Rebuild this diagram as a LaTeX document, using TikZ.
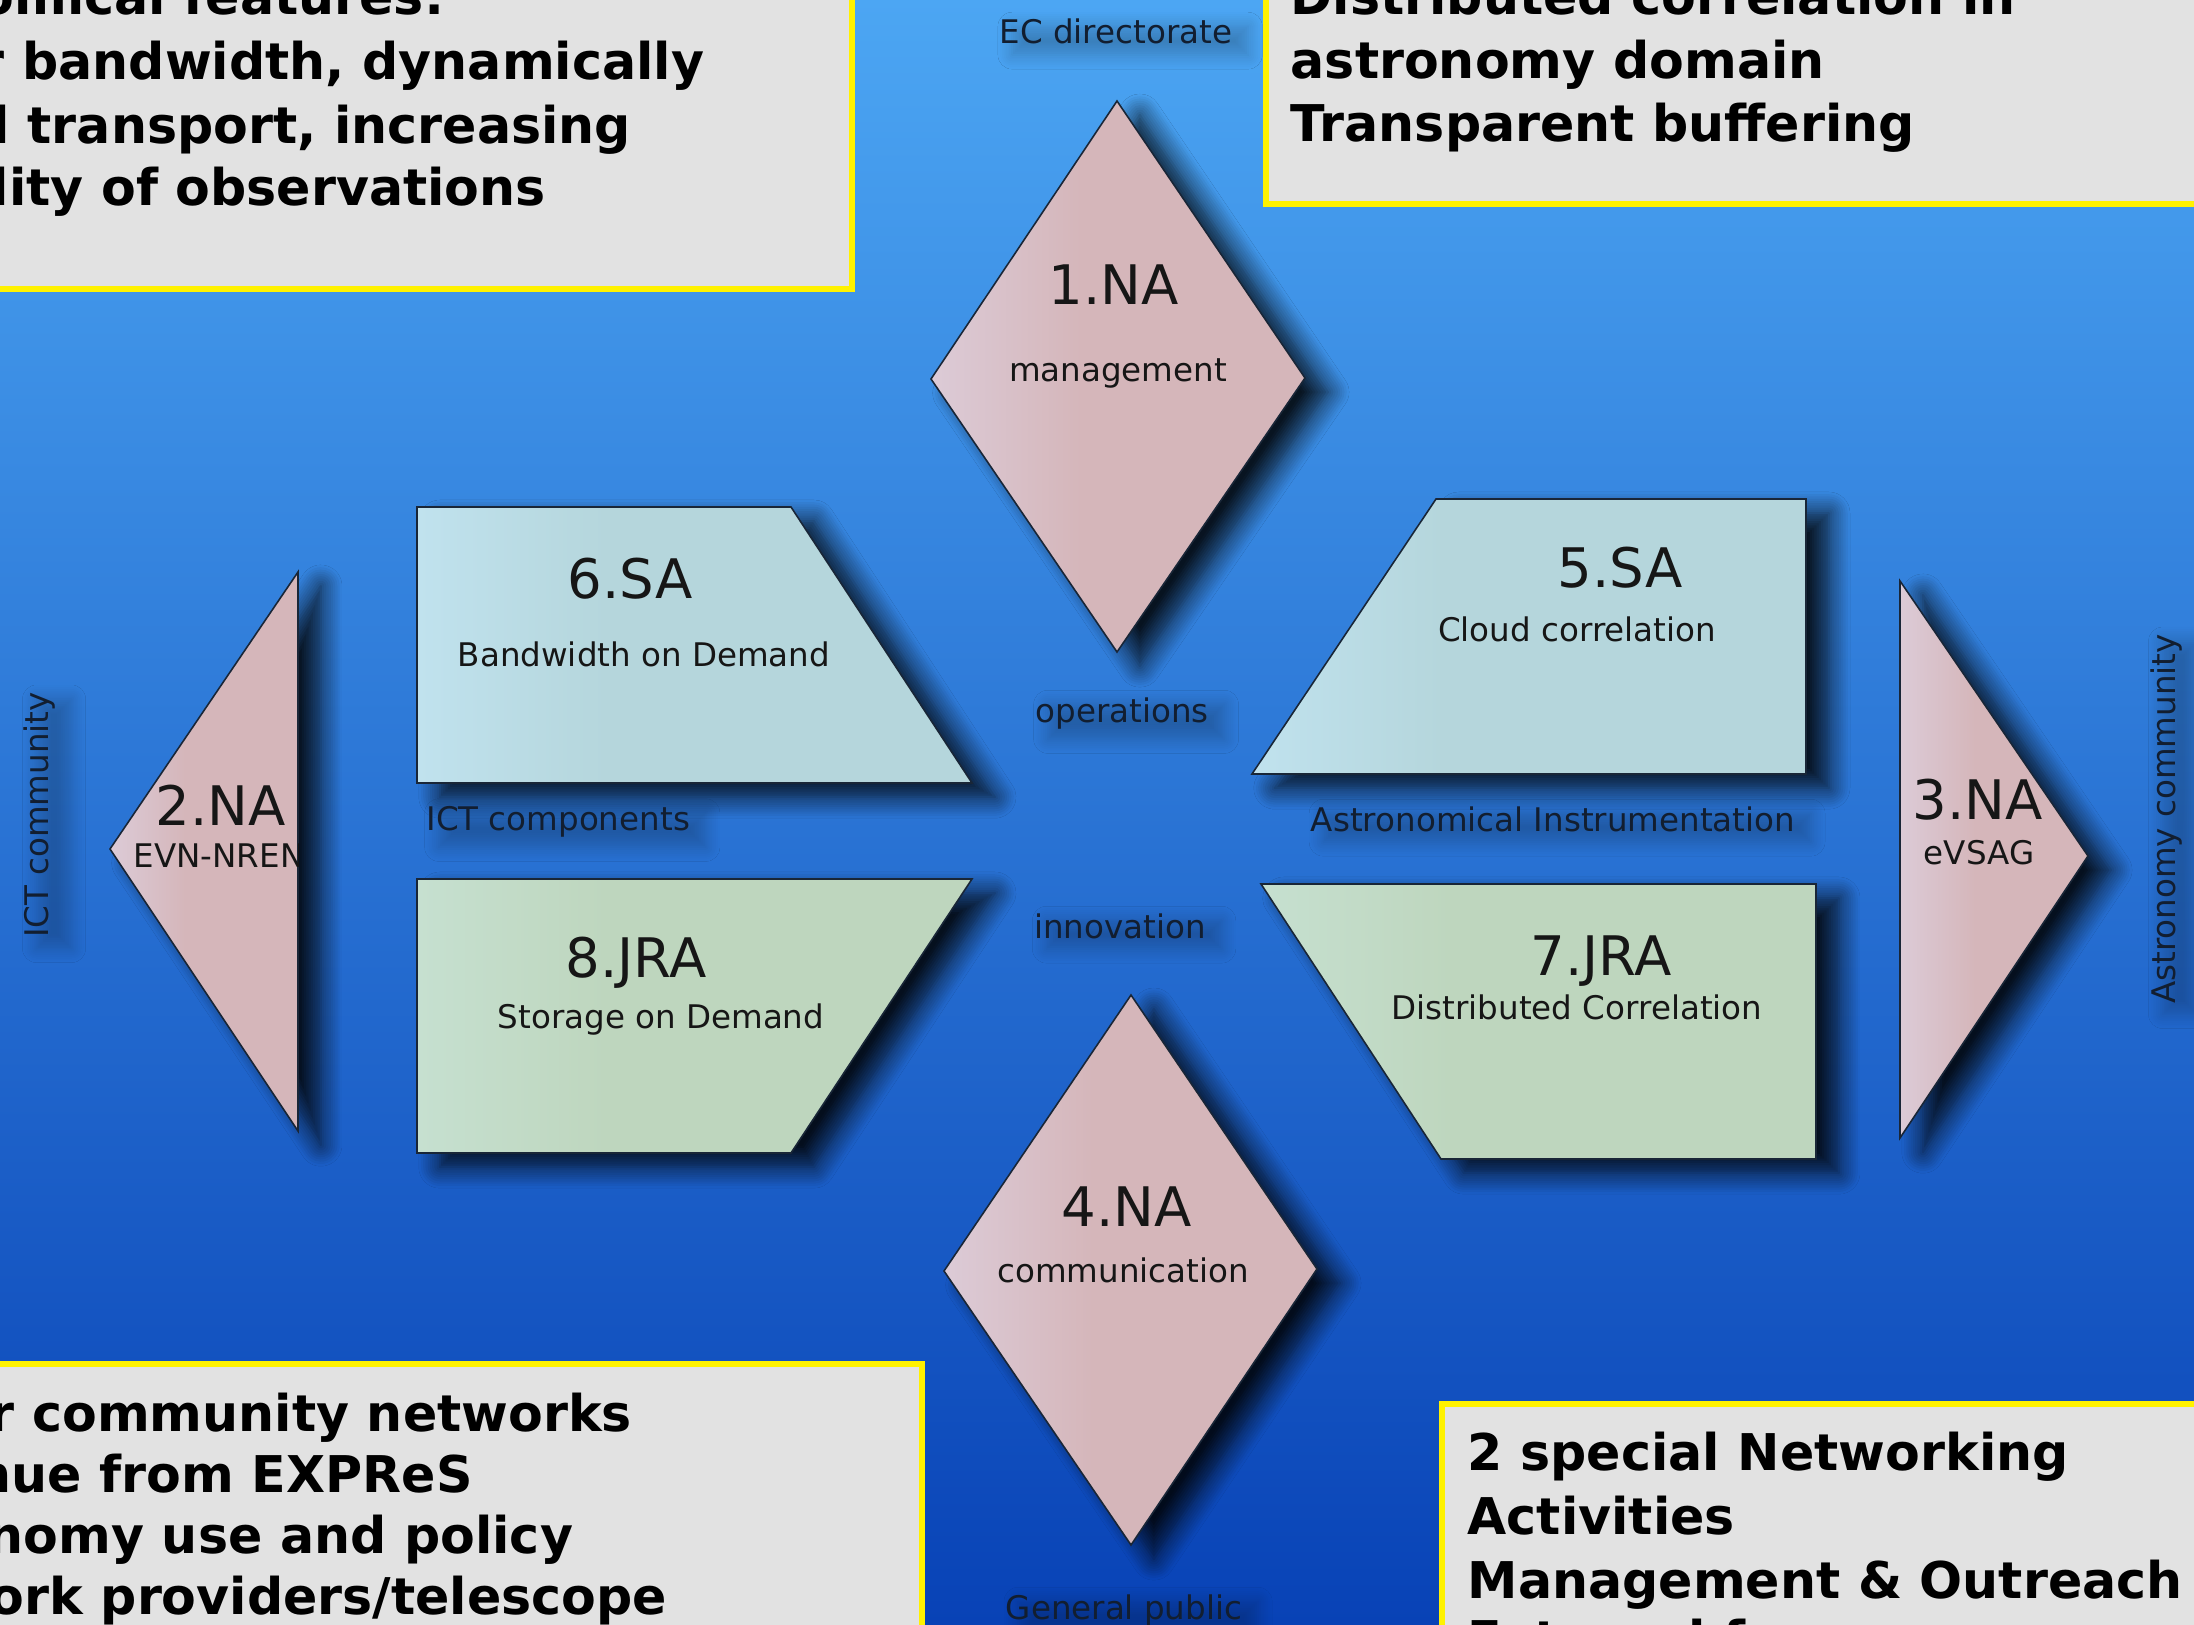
\documentclass[tikz,border=0pt]{standalone}
\usepackage{fontspec}
\setmainfont{DejaVu Sans}
\usetikzlibrary{shadows.blur}
\definecolor{bgtop}{RGB}{76,166,243}
\definecolor{bgmid}{RGB}{44,126,222}
\definecolor{bgbot}{RGB}{8,66,182}
\definecolor{pinkL}{RGB}{220,203,215}
\definecolor{pinkR}{RGB}{213,182,186}
\definecolor{blueL}{RGB}{192,226,238}
\definecolor{blueR}{RGB}{181,214,220}
\definecolor{greenL}{RGB}{198,224,208}
\definecolor{greenR}{RGB}{190,214,190}
\definecolor{boxgray}{RGB}{226,226,226}
\definecolor{edgecol}{RGB}{25,38,55}
\definecolor{lbltext}{RGB}{18,30,48}
\definecolor{shapetext}{RGB}{22,22,22}
\pgfdeclarehorizontalshading{pinkshade}{100bp}{color(0bp)=(pinkL); color(25bp)=(pinkL); color(45bp)=(pinkR); color(100bp)=(pinkR)}
\pgfdeclarehorizontalshading{blueshade}{100bp}{color(0bp)=(blueL); color(25bp)=(blueL); color(42bp)=(blueR); color(100bp)=(blueR)}
\pgfdeclarehorizontalshading{greenshade}{100bp}{color(0bp)=(greenL); color(25bp)=(greenL); color(42bp)=(greenR); color(100bp)=(greenR)}
\tikzset{
  blk/.style={draw=edgecol, line width=0.45pt,
    blur shadow={shadow xshift=6.5pt, shadow yshift=-4pt, shadow blur radius=6pt, shadow opacity=85, shadow blur steps=10}},
  pinkblk/.style={blk, shading=pinkshade},
  blueblk/.style={blk, shading=blueshade},
  greenblk/.style={blk, shading=greenshade},
  infobox/.style={draw=yellow, line width=1.45pt, fill=boxgray},
  boxtxt/.style={font=\bfseries\fontsize{14.4}{17}\selectfont, text=black, anchor=base west, inner sep=0pt},
  bigtxt/.style={font=\fontsize{15.5}{18}\selectfont, text=shapetext, anchor=base, inner sep=0pt},
  subtxt/.style={font=\fontsize{9.25}{11}\selectfont, text=shapetext, anchor=base, inner sep=0pt},
  lbl/.style={font=\fontsize{9.25}{11}\selectfont, text=lbltext, inner sep=0.5pt,
    blur shadow={shadow xshift=4pt, shadow yshift=-2.5pt, shadow blur radius=4pt, shadow opacity=22, shadow blur steps=8}}
}
\begin{document}
\begin{tikzpicture}[x=0.01cm, y=-0.01cm]
\useasboundingbox (0,0) rectangle (2194,1625);
\clip (0,0) rectangle (2194,1625);
% background
\shade[top color=bgtop, middle color=bgmid, bottom color=bgbot] (0,0) rectangle (2194,1625);

% info boxes
\draw[infobox] (-20,-20) rectangle (852,289);
\draw[infobox] (1266,-20) rectangle (2214,204);
\draw[infobox] (-20,1364) rectangle (922,1645);
\draw[infobox] (1442,1404) rectangle (2214,1645);

\node[boxtxt] (tl1) at (-21,15) {omical features:};
\node[boxtxt] (tl2) at (-21,80) {r bandwidth, dynamically};
\node[boxtxt] (tl3) at (-8,144) {l transport, increasing};
\node[boxtxt] (tl4) at (-9,206) {lity of observations};

\node[boxtxt] (tr1) at (1290,15) {Distributed correlation in};
\node[boxtxt] (tr2) at (1290,79) {astronomy domain};
\node[boxtxt] (tr3) at (1290,142) {Transparent buffering};

\node[boxtxt] (bl1) at (-11,1431) {r community networks};
\node[boxtxt] (bl2) at (-25,1492) {nue from EXPReS};
\node[boxtxt] (bl3) at (-13,1553) {nomy use and policy};
\node[boxtxt] (bl4) at (-11,1614) {ork providers/telescope};

\node[boxtxt] (br1) at (1467,1470) {2 special Networking};
\node[boxtxt] (br2) at (1467,1534) {Activities};
\node[boxtxt] (br3) at (1467,1598) {Management \& Outreach};
\node[boxtxt] (br4) at (1467,1657) {External f};

% shapes
\shadedraw[pinkblk] (1117,101) -- (1305,378) -- (1117,652) -- (931,379) -- cycle;
\shadedraw[pinkblk] (1131,995) -- (1317,1269) -- (1131,1545) -- (944,1271) -- cycle;
\shadedraw[pinkblk] (298,572) -- (298,1131) -- (110,849) -- cycle;
\shadedraw[pinkblk] (1900,581) -- (2088,856) -- (1900,1138) -- cycle;
\shadedraw[blueblk] (417,507) -- (791,507) -- (972,783) -- (417,783) -- cycle;
\shadedraw[greenblk] (417,879) -- (972,879) -- (791,1153) -- (417,1153) -- cycle;
\shadedraw[blueblk] (1436,499) -- (1806,499) -- (1806,774) -- (1252,774) -- cycle;
\shadedraw[greenblk] (1261,884) -- (1816,884) -- (1816,1159) -- (1441,1159) -- cycle;

% shape texts
\node[bigtxt] (na1) at (1114,305) {1.NA};
\node[subtxt] (na1s) at (1118,382) {management};
\node[bigtxt] (na4) at (1127,1226) {4.NA};
\node[subtxt] (na4s) at (1123,1282) {communication};
\node[bigtxt] (sa6) at (630,599) {6.SA};
\node[subtxt] (sa6s) at (644,667) {Bandwidth on Demand};
\node[bigtxt] (jra8) at (636,977) {8.JRA};
\node[subtxt] (jra8s) at (661,1028) {Storage on Demand};
\node[bigtxt] (sa5) at (1620,588) {5.SA};
\node[subtxt] (sa5s) at (1577,642) {Cloud correlation};
\node[bigtxt] (jra7) at (1601,975) {7.JRA};
\node[subtxt] (jra7s) at (1577,1019) {Distributed Correlation};
\node[bigtxt] (na3) at (1978,819) {3.NA};
\node[subtxt] (na3s) at (1979,864) {eVSAG};
\begin{scope}
\clip (298,572) -- (298,1131) -- (110,849) -- cycle;
\node[bigtxt] (na2) at (221,825) {2.NA};
\node[subtxt, anchor=base west] (na2s) at (133,867) {EVN-NREN};
\end{scope}

% labels
\node[lbl, anchor=base] (ec) at (1116,44) {EC directorate};
\node[lbl, anchor=base] (ops) at (1122,722) {operations};
\node[lbl, anchor=base] (inno) at (1120,938) {innovation};
\node[lbl, anchor=base] (pub) at (1124,1619) {General public};
\node[lbl, anchor=base west] (ictc) at (424,830) {ICT components};
\node[lbl, anchor=base] (astri) at (1553,831) {Astronomical Instrumentation};
\node[lbl, rotate=90] (ictcom) at (40,815) {ICT community};
\node[lbl, rotate=90] (astcom) at (2166,819) {Astronomy community};
\end{tikzpicture}
\end{document}
